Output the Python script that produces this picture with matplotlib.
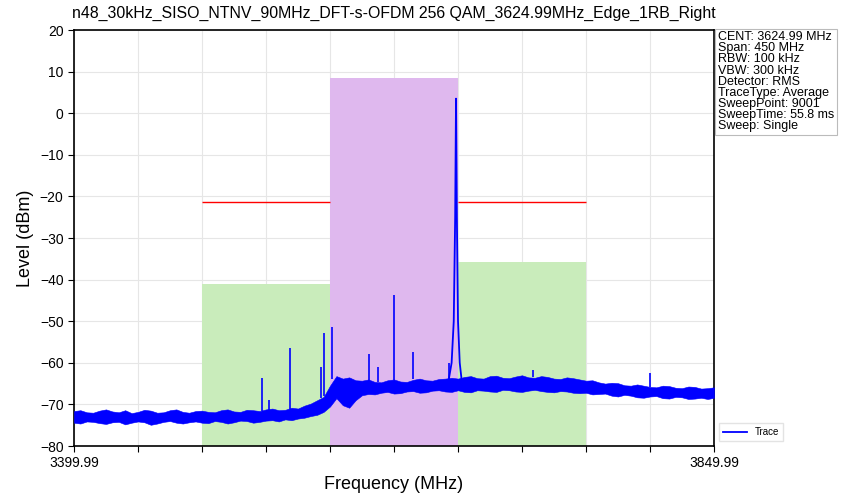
import matplotlib
matplotlib.use("Agg")
import matplotlib.pyplot as plt

plt.rcParams['font.family'] = ['Liberation Sans', 'DejaVu Sans']

TITLE = "n48_30kHz_SISO_NTNV_90MHz_DFT-s-OFDM 256 QAM_3624.99MHz_Edge_1RB_Right"
F_START = 3399.99
F_STOP = 3849.99

# limit masks: (start MHz, stop MHz, top dBm)
green_masks = [(3489.99, 3579.99, -41.1), (3669.99, 3759.99, -35.8)]
pink_mask = (3579.99, 3669.99, 8.5)
red_limit = -21.3
red_spans = [(3489.99, 3579.99), (3669.99, 3759.99)]

# trace noise envelope, one sample every 4.5 MHz
floor_freq = [round(F_START + 4.5 * i, 2) for i in range(101)]
floor_hi = [-71.6, -71.4, -71.9, -72.0, -71.5, -71.2, -71.7, -71.9, -71.4, -72.1,
            -71.8, -71.3, -71.5, -72.0, -71.9, -71.4, -71.2, -71.8, -72.0, -71.6,
            -71.5, -71.8, -71.9, -71.4, -71.2, -71.7, -71.8, -71.3, -71.4, -71.6,
            -71.2, -71.0, -71.4, -71.3, -70.8, -71.0, -70.3, -69.8, -69.0, -68.2,
            -65.5, -63.2, -63.8, -63.5, -64.2, -64.3, -64.0, -64.6, -64.7, -64.2,
            -64.0, -64.5, -64.6, -64.1, -63.8, -64.2, -64.3, -63.9, -63.8, -63.6,
            -63.8, -63.4, -63.2, -63.7, -63.8, -63.2, -63.1, -63.6, -63.7, -63.3,
            -63.0, -63.5, -63.6, -63.2, -63.4, -63.8, -63.9, -63.5, -63.7, -64.0,
            -64.3, -64.2, -64.7, -65.0, -64.8, -64.9, -65.4, -65.5, -65.2, -65.5,
            -65.8, -65.9, -65.5, -65.6, -66.0, -66.1, -65.7, -65.8, -66.2, -66.1,
            -65.9]
floor_lo = [-74.4, -74.6, -74.1, -74.2, -74.5, -74.7, -74.3, -74.2, -74.8, -74.4,
            -74.1, -74.3, -74.9, -74.6, -74.2, -74.0, -74.4, -74.6, -74.3, -74.1,
            -74.4, -74.5, -74.0, -74.2, -74.6, -74.3, -73.9, -74.0, -74.4, -74.2,
            -73.9, -73.8, -74.1, -73.6, -73.8, -73.4, -73.2, -72.8, -72.5, -71.8,
            -70.5, -68.5, -70.2, -70.8, -69.0, -67.8, -67.5, -67.6, -67.2, -67.0,
            -67.4, -67.3, -66.9, -66.8, -67.2, -67.1, -66.7, -66.6, -66.9, -67.0,
            -66.6, -67.0, -67.1, -66.6, -66.7, -66.9, -67.0, -66.5, -66.6, -66.9,
            -67.0, -66.7, -66.5, -66.8, -67.0, -67.1, -66.8, -66.9, -67.2, -67.3,
            -67.2, -67.6, -67.5, -67.4, -67.9, -68.1, -67.7, -67.9, -68.3, -68.4,
            -68.1, -68.0, -68.5, -68.6, -68.2, -68.3, -68.7, -68.6, -68.4, -68.7,
            -68.4]

# spurs: frequency, base level, top level
spur_freq = [3532.2, 3537.1, 3551.9, 3573.7, 3575.8, 3581.4, 3607.4, 3613.8,
             3625.0, 3638.4, 3663.7, 3722.7, 3805.0]
spur_base = [-71.5, -71.5, -71.0, -68.5, -68.0, -64.0, -64.5, -64.5,
             -64.2, -64.0, -63.8, -63.5, -65.8]
spur_top = [-63.7, -69.0, -56.4, -61.0, -52.8, -51.4, -58.0, -61.0,
            -43.7, -57.4, -60.0, -61.8, -62.5]

# carrier peak
peak_freq = [3663.5, 3665.5, 3667.0, 3668.0, 3668.6, 3669.2, 3670.0, 3671.2, 3672.5]
peak_level = [-64.0, -60.0, -50.0, -25.0, 3.5, -25.0, -50.0, -60.0, -64.0]

info_lines = ["CENT: 3624.99 MHz", "Span: 450 MHz", "RBW: 100 kHz", "VBW: 300 kHz",
              "Detector: RMS", "TraceType: Average", "SweepPoint: 9001",
              "SweepTime: 55.8 ms", "Sweep: Single"]


def main():
    fig = plt.figure(figsize=(8.46, 4.97), dpi=100)
    ax = fig.add_axes([74 / 846, 51 / 497, 640 / 846, 416 / 497])

    for f0, f1, top in green_masks:
        ax.bar(f0, top + 80, bottom=-80, width=f1 - f0, align='edge',
               color='#c9ecbb', zorder=1)
    ax.bar(pink_mask[0], pink_mask[2] + 80, bottom=-80,
           width=pink_mask[1] - pink_mask[0], align='edge',
           color='#dfb8ee', zorder=1)
    for f0, f1 in red_spans:
        ax.hlines(red_limit, f0, f1, color='red', linewidth=1, zorder=2)

    ax.fill_between(floor_freq, floor_lo, floor_hi, color='blue',
                    linewidth=0.4, edgecolor='blue', zorder=3)
    ax.vlines(spur_freq, spur_base, spur_top, color='blue', linewidth=1.2, zorder=3)
    ax.plot(peak_freq, peak_level, color='blue', linewidth=1.3, label='Trace', zorder=3)

    ax.set_xlim(F_START, F_STOP)
    ax.set_ylim(-80, 20)
    ax.set_yticks(range(-80, 21, 10))
    step = (F_STOP - F_START) / 10
    ticks = [F_START + i * step for i in range(11)]
    labels = [''] * 11
    labels[0] = '3399.99'
    labels[-1] = '3849.99'
    ax.set_xticks(ticks)
    ax.set_xticklabels(labels)
    ax.tick_params(labelsize=10, length=4)
    ax.grid(True, color='#e6e6e6', linewidth=0.8, zorder=0)
    ax.set_axisbelow(True)
    for s in ax.spines.values():
        s.set_linewidth(1.2)

    ax.set_title(TITLE, fontsize=11.4, pad=9)
    ax.set_xlabel('Frequency (MHz)', fontsize=13)
    ax.set_ylabel('Level (dBm)', fontsize=13)

    ax.text(1.006, 0.997, "\n".join(info_lines), transform=ax.transAxes,
            fontsize=9, va='top', ha='left', linespacing=0.9,
            bbox=dict(boxstyle='square,pad=0.2', facecolor='white',
                      edgecolor='#bbbbbb', linewidth=0.8))

    ax.legend(loc='lower left', bbox_to_anchor=(1.0, 0.0), fontsize=7,
              frameon=True, edgecolor='#dddddd', fancybox=False, handlelength=2.5)

    fig.savefig('out.png', dpi=100)


if __name__ == "__main__":
    main()
